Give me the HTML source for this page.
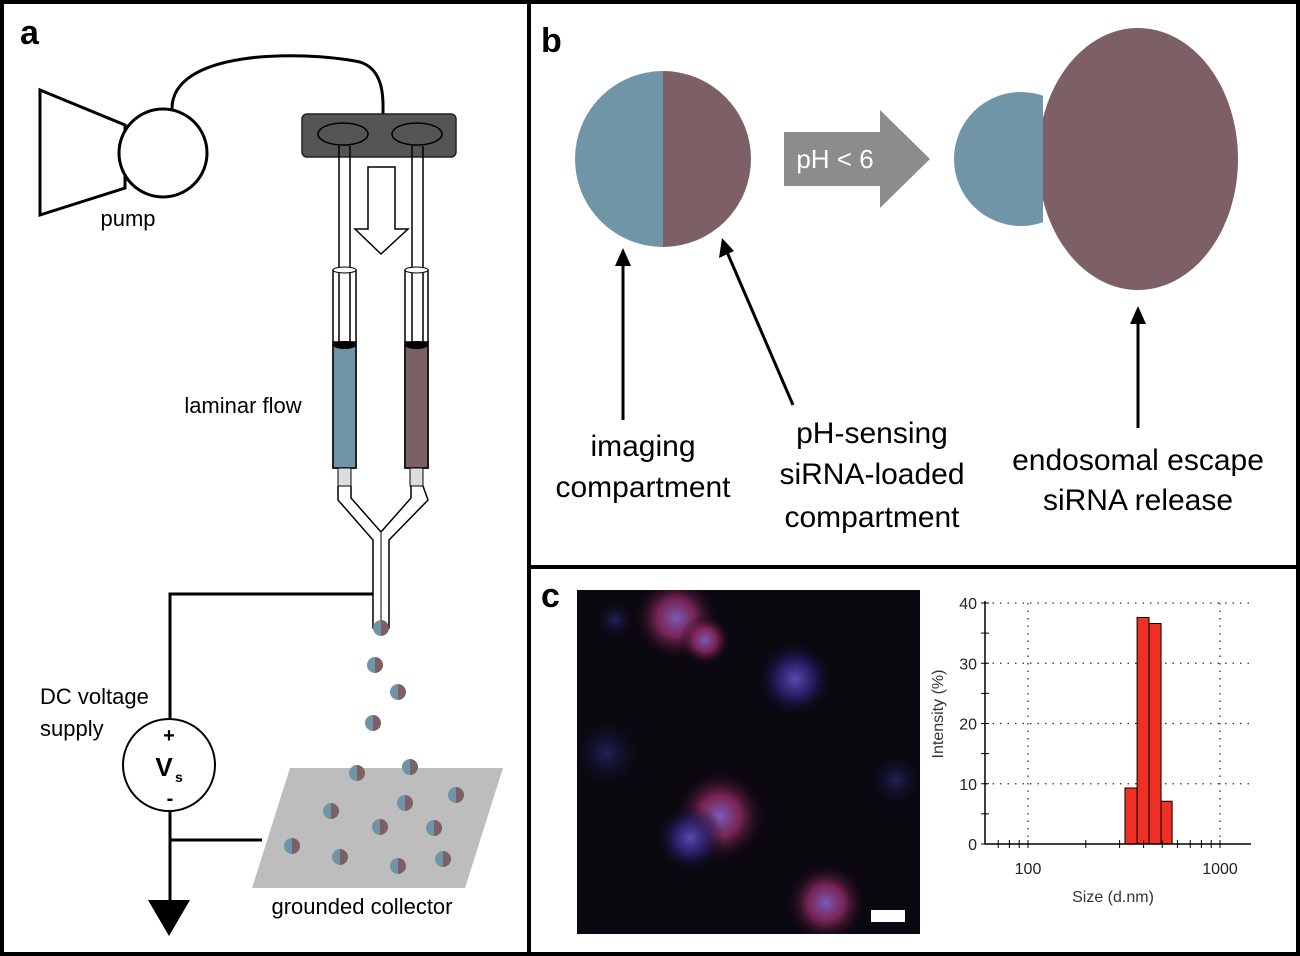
<!DOCTYPE html>
<html><head><meta charset="utf-8"><style>
html,body{margin:0;padding:0;background:#fff;}
svg{display:block;font-family:"Liberation Sans",sans-serif;}
</style></head><body>
<svg id="fig" width="1300" height="956" viewBox="0 0 1300 956">
<defs>
<radialGradient id="gPink"><stop offset="0" stop-color="#7a5ab8"/><stop offset="0.45" stop-color="#8a2a60" stop-opacity="0.85"/><stop offset="1" stop-color="#140614" stop-opacity="0"/></radialGradient>
<radialGradient id="gBlue"><stop offset="0" stop-color="#5a4ab0"/><stop offset="0.5" stop-color="#2a2070" stop-opacity="0.8"/><stop offset="1" stop-color="#0a0818" stop-opacity="0"/></radialGradient>
<radialGradient id="gFaint"><stop offset="0" stop-color="#22225a"/><stop offset="1" stop-color="#0a0818" stop-opacity="0"/></radialGradient>
<clipPath id="leftHalf"><rect x="0" y="0" width="1043" height="956"/></clipPath>
<clipPath id="rightHalf"><rect x="1043" y="0" width="300" height="956"/></clipPath>
<clipPath id="microClip"><rect x="577" y="590" width="343" height="344"/></clipPath>
</defs>
<rect x="2" y="2" width="1296" height="952" fill="none" stroke="#000" stroke-width="4"/>
<line x1="529" y1="0" x2="529" y2="956" stroke="#000" stroke-width="4"/>
<line x1="529" y1="567" x2="1300" y2="567" stroke="#000" stroke-width="4"/>

<g>
<text x="20" y="44" font-size="34" font-weight="bold">a</text>
<polygon points="40,90 125,125 125,188 40,215" fill="#fff" stroke="#000" stroke-width="3"/>
<circle cx="163" cy="153" r="44" fill="#fff" stroke="#000" stroke-width="3"/>
<path d="M172,110 C170,50 300,50 360,62 C385,70 383,100 383,115" fill="none" stroke="#000" stroke-width="3"/>
<text x="128" y="226" font-size="22" text-anchor="middle">pump</text>
<rect x="302" y="114" width="154" height="43" rx="5" fill="#555" stroke="#222" stroke-width="1.5"/>
<ellipse cx="343" cy="134" rx="25" ry="11" fill="#555" stroke="#000" stroke-width="1.5"/>
<ellipse cx="417" cy="134" rx="25" ry="11" fill="#555" stroke="#000" stroke-width="1.5"/>
<g stroke="#000" stroke-width="1.5" fill="none">
<line x1="339" y1="146" x2="339" y2="343"/><line x1="350" y1="146" x2="350" y2="343"/>
<line x1="412" y1="146" x2="412" y2="343"/><line x1="423" y1="146" x2="423" y2="343"/>
</g>
<polygon points="368,167 395,167 395,229 408,229 381,254 355,229 368,229" fill="#fff" stroke="#000" stroke-width="1.5"/>
<g>
<rect x="333" y="270" width="23" height="198" fill="none" stroke="#000" stroke-width="1.5"/>
<rect x="333" y="342" width="23" height="126" fill="#6f94a8" stroke="#000" stroke-width="1.5"/>
<ellipse cx="344.5" cy="345" rx="11.5" ry="4" fill="#000"/>
<ellipse cx="344.5" cy="270" rx="11.5" ry="3" fill="#fff" stroke="#000"/>
<rect x="338" y="468" width="13" height="18" fill="#ddd" stroke="#000"/>
</g>
<g>
<rect x="405" y="270" width="23" height="198" fill="none" stroke="#000" stroke-width="1.5"/>
<rect x="405" y="342" width="23" height="126" fill="#7d5f66" stroke="#000" stroke-width="1.5"/>
<ellipse cx="416.5" cy="345" rx="11.5" ry="4" fill="#000"/>
<ellipse cx="416.5" cy="270" rx="11.5" ry="3" fill="#fff" stroke="#000"/>
<rect x="410" y="468" width="13" height="18" fill="#ddd" stroke="#000"/>
</g>
<path d="M338,486 L338,500 L373,540 L373,628 L389,628 L389,540 L428,500 L423,486 M351,486 L351,498 L381,532 L411,498 L411,486" fill="none" stroke="#000" stroke-width="1.5"/>
<line x1="381" y1="533" x2="381" y2="628" stroke="#000" stroke-width="1" />
<text x="243" y="413" font-size="22" text-anchor="middle">laminar flow</text>
<polygon points="290,768 503,768 465,888 252,888" fill="#bdbdbd"/>
<text x="362" y="914" font-size="22" text-anchor="middle">grounded collector</text>
<polyline points="373,594 170,594 170,719" fill="none" stroke="#000" stroke-width="3"/>
<polyline points="170,811 170,905" fill="none" stroke="#000" stroke-width="3"/>
<line x1="170" y1="840" x2="262" y2="840" stroke="#000" stroke-width="3"/>
<polygon points="148,900 190,900 169,936" fill="#000"/>
<circle cx="169" cy="765" r="46" fill="#fff" stroke="#000" stroke-width="2"/>
<text x="169" y="742" font-size="20" font-weight="bold" text-anchor="middle">+</text>
<text x="164" y="776" font-size="26" font-weight="bold" text-anchor="middle">V</text><text x="175" y="782" font-size="14" font-weight="bold">s</text>
<text x="170" y="805" font-size="20" font-weight="bold" text-anchor="middle">-</text>
<text x="40" y="704" font-size="22">DC voltage</text>
<text x="40" y="736" font-size="22">supply</text>
<g id="drops"></g>
</g>

<g>
<text x="541" y="52" font-size="34" font-weight="bold">b</text>
<path d="M663,71 A88,88 0 0 0 663,247 Z" fill="#7094a8"/>
<path d="M663,71 A88,88 0 0 1 663,247 Z" fill="#7d5f66"/>
<polygon points="784,132 880,132 880,110 930,159 880,208 880,186 784,186" fill="#8c8c8c"/>
<text x="835" y="168" font-size="26" fill="#fff" text-anchor="middle">pH &lt; 6</text>
<circle cx="1021" cy="159" r="67" fill="#7094a8" clip-path="url(#leftHalf)"/>
<ellipse cx="1138" cy="159" rx="100" ry="131" fill="#7d5f66" clip-path="url(#rightHalf)"/>
<g stroke="#000" stroke-width="3" fill="#000">
<line x1="623" y1="420" x2="623" y2="262"/><polygon points="615,266 631,266 623,248" stroke="none"/>
<line x1="793" y1="405" x2="727" y2="252"/><polygon points="719,258 734,251 722,238" stroke="none"/>
<line x1="1138" y1="428" x2="1138" y2="320"/><polygon points="1130,324 1146,324 1138,306" stroke="none"/>
</g>
<g font-size="30" text-anchor="middle">
<text x="643" y="456">imaging</text>
<text x="643" y="497">compartment</text>
<text x="872" y="443">pH-sensing</text>
<text x="872" y="484">siRNA-loaded</text>
<text x="872" y="527">compartment</text>
<text x="1138" y="470">endosomal escape</text>
<text x="1138" y="510">siRNA release</text>
</g>
</g>

<g>
<text x="541" y="607" font-size="34" font-weight="bold">c</text>
<g clip-path="url(#microClip)">
<rect x="577" y="590" width="343" height="344" fill="#0c0810"/>
<circle cx="676" cy="618" r="42" fill="url(#gPink)"/>
<circle cx="705" cy="640" r="26" fill="url(#gPink)"/>
<circle cx="795" cy="679" r="38" fill="url(#gBlue)"/>
<circle cx="607" cy="753" r="36" fill="url(#gFaint)"/>
<circle cx="720" cy="816" r="46" fill="url(#gPink)"/>
<circle cx="690" cy="838" r="34" fill="url(#gBlue)"/>
<circle cx="826" cy="903" r="40" fill="url(#gPink)"/>
<circle cx="896" cy="780" r="28" fill="url(#gFaint)"/>
<circle cx="615" cy="620" r="20" fill="url(#gFaint)"/>
<rect x="871" y="910" width="34" height="12" fill="#fff"/>
</g>
<g id="hist"></g>
</g>
</svg>
<script>
const NS='http://www.w3.org/2000/svg';
function mk(tag,attrs,parent){const e=document.createElementNS(NS,tag);for(const k in attrs)e.setAttribute(k,attrs[k]);parent.appendChild(e);return e;}
const drops=[[381,628],[375,665],[398,692],[373,723],[357,773],[410,767],[456,795],[405,803],[331,811],[380,827],[434,828],[292,846],[340,857],[398,866],[443,859]];
const dg=document.getElementById('drops');
drops.forEach(([x,y])=>{
 const a=mk('path',{d:`M${x},${y-8} A8,8 0 0 0 ${x},${y+8} Z`,fill:'#6f94a8'},dg);
 
 
 const b=mk('path',{d:`M${x},${y-8} A8,8 0 0 1 ${x},${y+8} Z`,fill:'#7d5f66'},dg);
 
 
});
const binEdges=[320,370,427,493,563];
const intensities=[9.3,37.6,36.6,7.1];
const yTicks=[0,10,20,30,40];
const xTickLabels=[100,1000];
const minorTicks=[70,80,90,200,300,400,500,600,700,800,900];
const H=document.getElementById('hist');
const x0=985,x1=1251,yb=844,yt=603;
const sx=v=>1028+(Math.log10(v)-2)*192;
const sy=v=>yb-(v/40)*(yb-yt);
yTicks.slice(1).forEach(t=>{const g=mk('line',{x1:x0,x2:x1,y1:sy(t),y2:sy(t),stroke:'#333','stroke-dasharray':'1.5,6','stroke-width':1.3},H);});
xTickLabels.forEach(t=>{const g=mk('line',{x1:sx(t),x2:sx(t),y1:yt,y2:yb,stroke:'#333','stroke-dasharray':'1.5,6','stroke-width':1.3},H);});
intensities.forEach((v,i)=>{const r=mk('rect',{x:sx(binEdges[i]),y:sy(v),width:sx(binEdges[i+1])-sx(binEdges[i]),height:yb-sy(v),fill:'#ee3124',stroke:'#000','stroke-width':1},H);});
const ax=mk('line',{x1:x0,x2:x1,y1:yb,y2:yb,stroke:'#000','stroke-width':1.5},H);
const ay=mk('line',{x1:x0,x2:x0,y1:yt-2,y2:yb,stroke:'#000','stroke-width':1.5},H);
for(let t=0;t<=40;t+=5){mk('line',{x1:x0-4,x2:x0+4,y1:sy(t),y2:sy(t),stroke:'#000'},H);}
yTicks.forEach(t=>{const l=mk('text',{x:x0-8,y:sy(t)+6,'font-size':16,'text-anchor':'end',fill:'#222'},H);l.textContent=t;});
minorTicks.concat(xTickLabels).forEach(t=>{mk('line',{x1:sx(t),x2:sx(t),y1:yb-4,y2:yb+4,stroke:'#000'},H);});
xTickLabels.forEach(t=>{const l=mk('text',{x:sx(t),y:yb+30,'font-size':16,'text-anchor':'middle',fill:'#222'},H);l.textContent=t;});
const xt=mk('text',{x:1113,y:902,'font-size':16,'text-anchor':'middle',fill:'#333'},H);xt.textContent='Size (d.nm)';


const yl=mk('text',{x:0,y:0,'font-size':16,'text-anchor':'middle',fill:'#333',transform:'translate(943,714) rotate(-90)'},H);yl.textContent='Intensity (%)';


</script>
</body></html>
